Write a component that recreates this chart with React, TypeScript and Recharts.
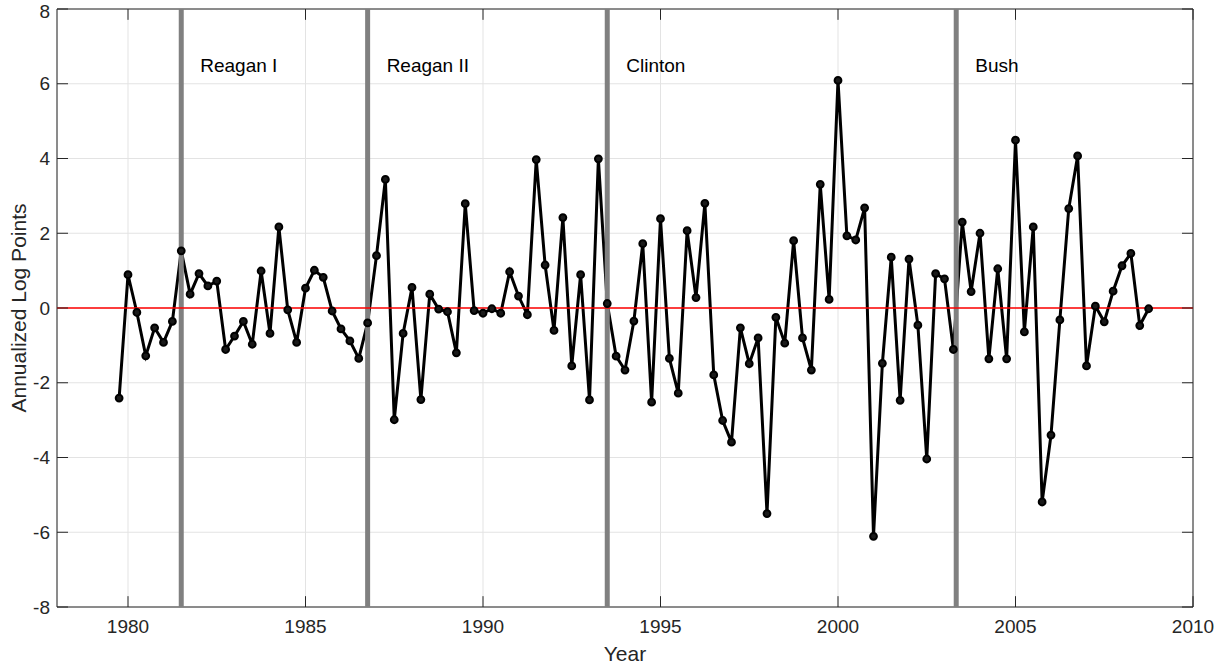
import React from "react";
import {
  CartesianGrid,
  Line,
  LineChart,
  ReferenceArea,
  ReferenceLine,
  XAxis,
  YAxis
} from "recharts";

// quarterly series, first observation 1979Q4
const firstQuarter = 1979.75;
const values = [
  -2.41, 0.89, -0.12, -1.28, -0.53, -0.92, -0.36, 1.53, 0.37, 0.92,
  0.59, 0.72, -1.11, -0.75, -0.36, -0.97, 0.99, -0.68, 2.17, -0.05,
  -0.92, 0.53, 1.01, 0.82, -0.08, -0.56, -0.88, -1.35, -0.4, 1.4,
  3.44, -2.99, -0.68, 0.55, -2.45, 0.37, -0.03, -0.1, -1.2, 2.79,
  -0.07, -0.14, -0.02, -0.14, 0.97, 0.32, -0.18, 3.97, 1.15, -0.6,
  2.42, -1.55, 0.89, -2.46, 3.99, 0.12, -1.29, -1.66, -0.35, 1.72,
  -2.52, 2.39, -1.35, -2.28, 2.07, 0.28, 2.8, -1.79, -3.01, -3.59,
  -0.53, -1.49, -0.8, -5.5, -0.25, -0.94, 1.8, -0.8, -1.66, 3.31,
  0.23, 6.09, 1.93, 1.82, 2.68, -6.11, -1.48, 1.36, -2.47, 1.31,
  -0.46, -4.04, 0.92, 0.78, -1.11, 2.3, 0.44, 2.0, -1.36, 1.05,
  -1.36, 4.49, -0.64, 2.17, -5.19, -3.4, -0.32, 2.66, 4.07, -1.55,
  0.05, -0.37, 0.45, 1.13, 1.46, -0.47, -0.02
];

const terms = [
  { start: 1981.5, name: "Reagan I" },
  { start: 1986.75, name: "Reagan II" },
  { start: 1993.5, name: "Clinton" },
  { start: 2003.33, name: "Bush" }
];

const xTicks = [1980, 1985, 1990, 1995, 2000, 2005, 2010];
const yTicks = [-8, -6, -4, -2, 0, 2, 4, 6, 8];

const data = values.map((v, i) => ({ t: firstQuarter + i * 0.25, v }));

const font = "'Liberation Sans', Arial, Helvetica, sans-serif";
const axisColor = "#262626";

export default function App() {
  return (
    <div style={{ width: 1225, height: 667, fontFamily: font }}>
      <style>{"body{margin:0}"}</style>
      <LineChart
        width={1225}
        height={667}
        data={data}
        margin={{ top: 9, right: 32, bottom: 0, left: 0 }}
      >
        <CartesianGrid stroke="#e3e3e3" strokeWidth={1} />
        <XAxis
          dataKey="t"
          type="number"
          domain={[1978, 2010]}
          ticks={xTicks}
          allowDataOverflow
          height={60}
          axisLine={false}
          tickLine={false}
          tickSize={0}
          tickMargin={13}
          tick={{ fill: axisColor, fontSize: 19, fontFamily: font }}
          label={{
            value: "Year",
            position: "insideBottom",
            offset: 6,
            fill: axisColor,
            fontSize: 21,
            fontFamily: font
          }}
        />
        <YAxis
          type="number"
          domain={[-8, 8]}
          ticks={yTicks}
          allowDataOverflow
          width={57}
          axisLine={false}
          tickLine={false}
          tickSize={0}
          tickMargin={7}
          tick={{ fill: axisColor, fontSize: 19, fontFamily: font }}
          label={{
            value: "Annualized Log Points",
            angle: -90,
            position: "center",
            dx: -10,
            fill: axisColor,
            fontSize: 21,
            fontFamily: font
          }}
        />
        <Line
          type="linear"
          dataKey="v"
          stroke="#000"
          strokeWidth={3}
          dot={{ r: 3.4, stroke: "#000", strokeWidth: 2, fill: "#1a1a1a" }}
          isAnimationActive={false}
        />
        {terms.map((term) => (
          <ReferenceLine
            key={term.name}
            x={term.start}
            stroke="#808080"
            strokeWidth={5}
            label={{
              value: term.name,
              position: "insideTopLeft",
              offset: 19,
              dy: 31,
              fill: "#000",
              fontSize: 19,
              fontFamily: font
            }}
          />
        ))}
        <ReferenceLine y={0} stroke="#ff0000" strokeWidth={1.5} />
        <ReferenceArea
          x1={1978}
          x2={2010}
          y1={-8}
          y2={8}
          fill="none"
          stroke={axisColor}
          strokeWidth={1}
        />
        {xTicks.map((t) => (
          <ReferenceLine
            key={"xb" + t}
            segment={[{ x: t, y: -8 }, { x: t, y: -7.71 }]}
            stroke={axisColor}
          />
        ))}
        {xTicks.map((t) => (
          <ReferenceLine
            key={"xt" + t}
            segment={[{ x: t, y: 8 }, { x: t, y: 7.71 }]}
            stroke={axisColor}
          />
        ))}
        {yTicks.map((t) => (
          <ReferenceLine
            key={"yl" + t}
            segment={[{ x: 1978, y: t }, { x: 1978.31, y: t }]}
            stroke={axisColor}
          />
        ))}
        {yTicks.map((t) => (
          <ReferenceLine
            key={"yr" + t}
            segment={[{ x: 2010, y: t }, { x: 2009.69, y: t }]}
            stroke={axisColor}
          />
        ))}
      </LineChart>
    </div>
  );
}
